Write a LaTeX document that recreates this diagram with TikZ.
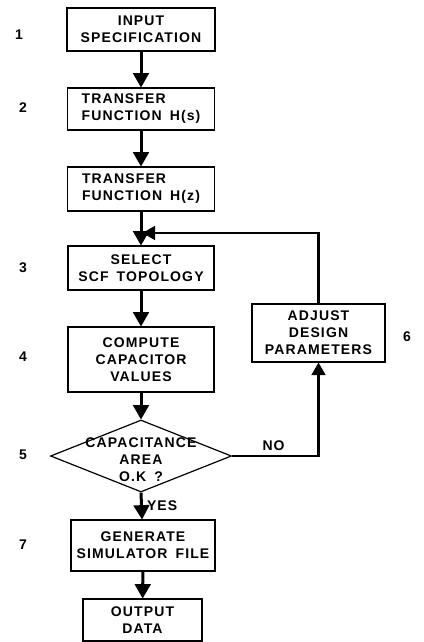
\documentclass[tikz,border=0pt]{standalone}
\usepackage{fontspec}
\setmainfont{Liberation Sans}[LetterSpace=8, WordSpace=1.6]
\usepackage{tikz}
\usetikzlibrary{shapes}
\usetikzlibrary{arrows}
\tikzstyle{flow}=[->,>=triangle 60,line width=3pt]
\tikzstyle{loop}=[->,>=triangle 60,line width=2.5pt]
\tikzstyle{box}=[rectangle,draw,inner sep=0pt,align=center]
\tikzstyle{stepno}=[inner sep=0pt]
\tikzset{every picture/.style={
    line width=1.2pt,
    font=\bfseries\fontsize{14}{17}\selectfont
  }
}

\begin{document}
\begin{tikzpicture}[x=1pt,y=-1pt]
      \useasboundingbox (0,0) rectangle (423,642);
      \node[box, minimum width=148pt, minimum height=43pt] at (141,29.5) (input) {INPUT\\SPECIFICATION};
      \node[box, align=left, minimum width=147pt, minimum height=42pt] at (141,109) (tfs) {TRANSFER\\FUNCTION H(s)};
      \node[box, align=left, minimum width=147pt, minimum height=44pt] at (141,189) (tfz) {TRANSFER\\FUNCTION H(z)};
      \node[box, minimum width=146pt, minimum height=44pt] at (141,268) (topology) {SELECT\\SCF TOPOLOGY};
      \node[box, minimum width=146pt, minimum height=65pt] at (141,359.5) (capvalues) {COMPUTE\\CAPACITOR\\VALUES};
      \node[diamond, draw, inner sep=0pt, minimum width=181pt, minimum height=72pt] at (141,456) (areaok) {};
      \node[align=center, inner sep=0pt] at (141,460) (areatext) {CAPACITANCE\\AREA\\O.K ?};
      \node[box, minimum width=133pt, minimum height=58pt] at (318.5,333) (adjust) {ADJUST\\DESIGN\\PARAMETERS};
      \node[box, minimum width=144pt, minimum height=51pt] at (143,545.5) (simfile) {GENERATE\\SIMULATOR FILE};
      \node[box, minimum width=119pt, minimum height=42pt] at (142.5,620) (output) {OUTPUT\\DATA};
      \coordinate (join) at (141,233);
      % step numbers
      \node[stepno] at (19,35) (n1) {1};
      \node[stepno] at (23,108) (n2) {2};
      \node[stepno] at (23,268) (n3) {3};
      \node[stepno] at (23,357) (n4) {4};
      \node[stepno] at (23,455) (n5) {5};
      \node[stepno] at (407,337) (n6) {6};
      \node[stepno] at (23,545) (n7) {7};
      % main flow
      \draw[flow] (input) -- (tfs);
      \draw[flow] (tfs) -- (tfz);
      \draw[flow] (tfz) -- (topology);
      \draw[flow] (topology) -- (capvalues);
      \draw[flow] (capvalues) -- (areaok.north);
      \draw[flow] (areaok.south) -- node[right, xshift=4pt, inner sep=0pt] (yes) {YES} (simfile);
      \draw[flow] (simfile) -- (output);
      % redesign loop
      \draw[loop] (areaok.east) -| node[pos=0.24, above, inner sep=4pt] (no) {NO} (adjust.south);
      \draw[loop, shorten >=1.5pt] (adjust.north) |- (join);
    \end{tikzpicture}
\end{document}
